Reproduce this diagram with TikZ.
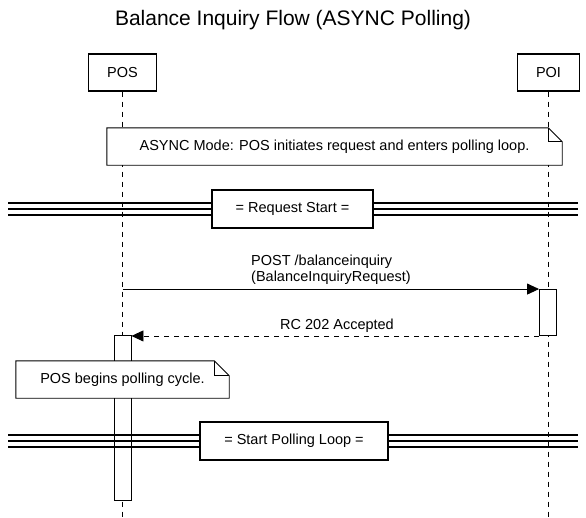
\documentclass[tikz,border=0pt]{standalone}
\usepackage{fontspec}
\setmainfont{Liberation Sans}
\usetikzlibrary{calc,arrows.meta,positioning}

\begin{document}
\begin{tikzpicture}[x=1pt, y=-1pt,
	txt/.style={font=\fontsize{14.5}{16}\selectfont},
	actor/.style={draw, line width=1.4pt, txt, minimum height=37pt},
	life/.style={dash pattern=on 5pt off 5pt, line width=0.9pt},
	act/.style={draw, fill=white, line width=0.9pt, minimum width=17pt, inner sep=0},
	notebox/.style={fill=white, txt, minimum height=37pt},
	divbox/.style={draw, fill=white, line width=1.3pt, txt, minimum height=38pt},
	divline/.style={line width=1.1pt},
	msg/.style={line width=0.9pt, -{Triangle[length=12pt, width=11pt]}}]
	\useasboundingbox (0,0) rectangle (586,517);

	\node (title) [anchor=base, font=\fontsize{21}{24}\selectfont] at (293,25) {Balance Inquiry Flow (ASYNC Polling)};

	% participants
	\node (pos) [actor, minimum width=68pt] at (122.5,72.5) {POS};
	\node (poi) [actor, minimum width=62pt] at (548.5,72.5) {POI};
	\coordinate (posEnd) at (pos.south |- 0,517);
	\coordinate (poiEnd) at (poi.south |- 0,517);
	\draw [life] (pos.south) -- (posEnd);
	\draw [life] (poi.south) -- (poiEnd);

	% note 1
	\node (n1) [notebox, minimum width=455pt] at (334.5,146.5) {ASYNC Mode: POS initiates request and enters polling loop.};
	\draw [line width=0.9pt] (n1.south west) -- (n1.north west) -- ($(n1.north east)+(-14,0)$) -- ($(n1.north east)+(0,14)$) -- (n1.south east) -- cycle;
	\draw [line width=0.9pt] ($(n1.north east)+(-14,0)$) |- ($(n1.north east)+(0,14)$);

	% divider 1
	\foreach \dy in {-6,0,6}
		\draw [divline] (8,209+\dy) -- (578,209+\dy);
	\node (div1) [divbox, minimum width=161pt] at (292.5,209) {= Request Start =};

	% activations
	\node (poiact) [act, minimum height=46pt] at (548,312.5) {};
	\node (posact) [act, minimum height=165pt] at (122.5,418) {};

	% messages
	\draw [msg] (pos.south |- poiact.north west) -- (poiact.north west);
	\node (m1) [txt, anchor=south west, align=left, inner sep=0] at (251,285) {POST /balanceinquiry\\(BalanceInquiryRequest)};
	\draw [msg, dash pattern=on 5pt off 5pt] (poiact.south west) -- (poiact.south west -| posact.east);
	\node (m2) [txt, anchor=base] at (337,329) {RC 202 Accepted};

	% note 2
	\node (n2) [notebox, minimum width=213pt] at (122.5,379.5) {POS begins polling cycle.};
	\draw [line width=0.9pt] (n2.south west) -- (n2.north west) -- ($(n2.north east)+(-15,0)$) -- ($(n2.north east)+(0,15)$) -- (n2.south east) -- cycle;
	\draw [line width=0.9pt] ($(n2.north east)+(-15,0)$) |- ($(n2.north east)+(0,15)$);

	% divider 2
	\foreach \dy in {-6,0,6}
		\draw [divline] (8,441+\dy) -- (578,441+\dy);
	\node (div2) [divbox, minimum width=188pt] at (294,441) {= Start Polling Loop =};
\end{tikzpicture}
\end{document}
